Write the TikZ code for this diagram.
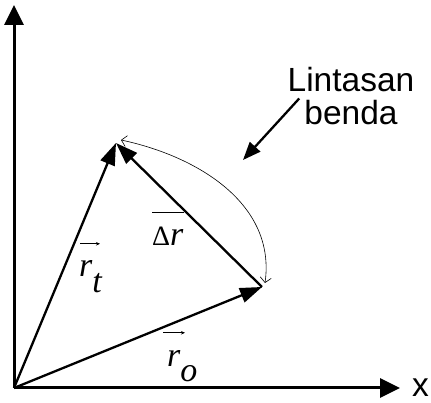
\documentclass[tikz,border=0pt]{standalone}
\usepackage{fontspec}
\setmainfont{Liberation Sans}
\newfontfamily\tms{Liberation Serif}
\usetikzlibrary{arrows.meta,positioning,calc}
\tikzset{
  axis/.style={line width=3pt, -{Triangle[length=20pt,width=19pt]}},
  vec/.style={line width=2.3pt, -{Triangle[length=22pt,width=15pt]}},
  track/.style={line width=0.6pt, {Straight Barb[length=5pt,width=11pt]}-{Straight Barb[length=5pt,width=11pt]}},
  pointer/.style={line width=2.3pt, -{Triangle[length=18pt,width=14pt]}},
  tick/.style={line width=0.7pt, -{Stealth[length=4pt,width=3.5pt]}},
  lbl/.style={font=\fontsize{33.5}{38}\selectfont, inner sep=0pt},
  sym/.style={font=\fontsize{34}{38}\selectfont\tms\itshape, inner sep=0pt}
}

\begin{document}
\begin{tikzpicture}[x=1pt, y=1pt]
\useasboundingbox (0,0) rectangle (431,403);
% points
\coordinate (O) at (14,15);
\coordinate (Y) at (14,398);
\coordinate (X) at (400,15);
\coordinate (T) at (116,260);
\coordinate (P) at (262,116);
\coordinate (Ta) at (121,263);
\coordinate (Pa) at (265,120);
\coordinate (ptr) at (243,243);

% axes
\draw[axis] (O) -- (Y);
\draw[axis] (O) -- (X);
\node[lbl, right=12pt of X] (xlab) {x};

% vectors
\draw[vec] (O) -- (T);
\draw[vec] (O) -- (P);
\draw[vec] (P) -- (T);

% path of the body
\draw[track] (Pa) to[out=82, in=-12] (Ta);
\node[lbl] (lintasan) at (351,323) {Lintasan};
\node[lbl, below=8pt of lintasan] (benda) {benda};
\draw[pointer] ([xshift=-5pt,yshift=2pt]benda.north west) -- (ptr);

% labels
\node[sym, anchor=base west] (rt) at (79,126) {r\raisebox{-16pt}{t}};
\draw[tick] ($(rt.north west)+(1,17)$) -- ++(20,0);
\node[sym, anchor=base west] (ro) at (167,36) {r\raisebox{-15pt}{o}};
\draw[tick] ($(ro.north west)+(-4,18)$) -- ++(22,0);
\node[sym, anchor=base west] (dr) at (152,157) {{\fontsize{28}{30}\selectfont\upshape\symbol{"0394}}r};
\draw[line width=0.8pt] ($(dr.north west)+(0,15)$) -- ($(dr.north east)+(0,15)$);
\end{tikzpicture}
\end{document}
